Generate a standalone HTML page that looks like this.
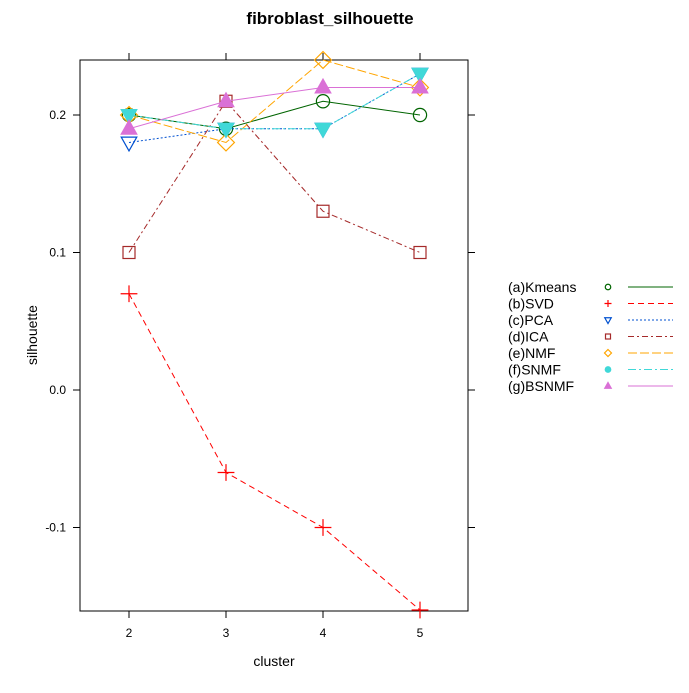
<!DOCTYPE html>
<html><head><meta charset="utf-8"><style>
body{margin:0;background:#fff;font-family:"Liberation Sans",sans-serif}
svg text{font-family:"Liberation Sans",sans-serif}
</style></head><body>
<svg id="c" width="689" height="688" xmlns="http://www.w3.org/2000/svg">
<rect width="689" height="688" fill="#fff"/>
<text x="330" y="24" text-anchor="middle" font-size="17" font-weight="bold">fibroblast_silhouette</text>
<rect x="80" y="60" width="388" height="551" fill="none" stroke="#000"/>
<text x="274" y="666" text-anchor="middle" font-size="14">cluster</text>
<text transform="translate(37,335) rotate(-90)" text-anchor="middle" font-size="14">silhouette</text>
<g id="ax"></g><g id="series"></g><g id="legend"></g>
</svg>
<script>
const categories=[2,3,4,5];
const yTicks=[0.2,0.1,0.0,-0.1];
const yTickLabels=["0.2","0.1","0.0","-0.1"];
const seriesNames=["(a)Kmeans","(b)SVD","(c)PCA","(d)ICA","(e)NMF","(f)SNMF","(g)BSNMF"];
const kmeans=[0.20,0.19,0.21,0.20];
const svd=[0.07,-0.06,-0.10,-0.16];
const pca=[0.18,0.19,0.19,0.23];
const ica=[0.10,0.21,0.13,0.10];
const nmf=[0.20,0.18,0.24,0.22];
const snmf=[0.20,0.19,0.19,0.23];
const bsnmf=[0.19,0.21,0.22,0.22];
const NS="http://www.w3.org/2000/svg";
const X=v=>129+(v-2)*97, Y=v=>390-v*1375;
function mk(t,a,p){const e=document.createElementNS(NS,t);for(const k in a)e.setAttribute(k,a[k]);p.appendChild(e);return e;}
const ax=document.getElementById('ax');
categories.forEach(c=>{
 const t=mk('line',{x1:X(c),x2:X(c),y1:611,y2:618,stroke:'#000'},ax);
 
 
 const t2=mk('line',{x1:X(c),x2:X(c),y1:53,y2:60,stroke:'#000'},ax);
 
 
 const l=mk('text',{x:X(c),y:637,'text-anchor':'middle','font-size':12},ax);l.textContent=c;
 
 
});
yTicks.forEach((v,i)=>{
 const t=mk('line',{x1:73,x2:80,y1:Y(v),y2:Y(v),stroke:'#000'},ax);
 
 
 const t2=mk('line',{x1:468,x2:475,y1:Y(v),y2:Y(v),stroke:'#000'},ax);
 
 
 const l=mk('text',{x:66,y:Y(v)+4,'text-anchor':'end','font-size':12},ax);l.textContent=yTickLabels[i];
 
 
});
const styles=[
 {d:kmeans,c:'#006400',dash:'',m:'circle'},
 {d:svd,c:'#ff0000',dash:'6,4',m:'plus'},
 {d:pca,c:'#0050d0',dash:'2,2',m:'tridown'},
 {d:ica,c:'#a52a2a',dash:'6,3,2,3',m:'square'},
 {d:nmf,c:'#ffa500',dash:'9,3',m:'diamond'},
 {d:snmf,c:'#40d8d8',dash:'8,3,2,3',m:'tridownf'},
 {d:bsnmf,c:'#da70d6',dash:'',m:'triup'}];
function marker(g,m,x,y,s,c){
 const sw=1.2;
 if(m=='circle')return mk('circle',{cx:x,cy:y,r:s*0.55,fill:'none',stroke:c,'stroke-width':sw},g);
 if(m=='plus')return mk('path',{d:`M${x-s*0.7},${y}H${x+s*0.7}M${x},${y-s*0.7}V${y+s*0.7}`,stroke:c,'stroke-width':sw,fill:'none'},g);
 if(m=='square')return mk('rect',{x:x-s*0.5,y:y-s*0.5,width:s,height:s,fill:'none',stroke:c,'stroke-width':sw},g);
 if(m=='diamond')return mk('path',{d:`M${x},${y-s*0.7}L${x+s*0.7},${y}L${x},${y+s*0.7}L${x-s*0.7},${y}Z`,fill:'none',stroke:c,'stroke-width':sw},g);
 if(m=='tridown'||m=='tridownf')return mk('path',{d:`M${x-s*0.65},${y-s*0.45}H${x+s*0.65}L${x},${y+s*0.7}Z`,fill:m=='tridownf'?c:'none',stroke:c,'stroke-width':sw},g);
 if(m=='triup')return mk('path',{d:`M${x-s*0.65},${y+s*0.45}H${x+s*0.65}L${x},${y-s*0.7}Z`,fill:c,stroke:c,'stroke-width':sw},g);
}
const sg=document.getElementById('series');
styles.forEach((s,i)=>{
 const g=mk('g',{},sg);
 
 
 const pl=mk('polyline',{points:s.d.map((v,j)=>X(categories[j])+','+Y(v)).join(' '),fill:'none',stroke:s.c,'stroke-width':1,'stroke-dasharray':s.dash},g);
 
 
 s.d.forEach((v,j)=>{const m=marker(g,s.m,X(categories[j]),Y(v),12,s.c);
  
  });
});
const lg=document.getElementById('legend');
styles.forEach((s,i)=>{
 const y=287+i*16.5;
 const g=mk('g',{},lg);
 
 
 const t=mk('text',{x:508,y:y+5,'font-size':14},g);t.textContent=seriesNames[i];
 marker(g,s.m=='tridownf'?'circle':s.m,608,y,5,s.c);
 if(s.m=='tridownf')g.lastChild.setAttribute('fill',s.c);
 mk('line',{x1:628,x2:673,y1:y,y2:y,stroke:s.c,'stroke-dasharray':s.dash},g);
});
</script>
</body></html>
